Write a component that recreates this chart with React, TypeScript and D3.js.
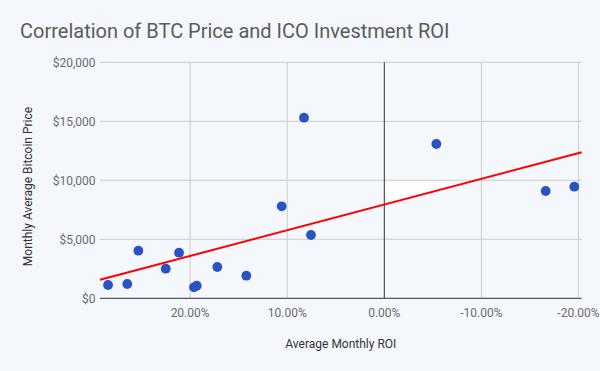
import React from "react";
import * as d3 from "d3";

const roi = [0.2845, 0.2647, 0.2533, 0.2251, 0.2114, 0.196, 0.1932, 0.172, 0.1421, 0.1057, 0.0827, 0.0755, -0.0536, -0.1662, -0.1957];
const price = [1127, 1212, 4034, 2508, 3864, 932, 1068, 2653, 1915, 7797, 15305, 5364, 13076, 9093, 9458];
const xTicks = [0.2, 0.1, 0, -0.1, -0.2];
const yTicks = [0, 5000, 10000, 15000, 20000];
const xDomain = [0.2928, -0.2033];
const yDomain = [0, 20000];
const trendIntercept = 7950;
const trendSlope = -21800;

const W = 600, H = 371;
const L = 100, R = 581.7, T = 62.3, B = 298.3;
const FONT = "Roboto, 'Noto Sans', sans-serif";
const BG = "#f4f7fb";

export default function App() {
  const x = d3.scaleLinear().domain(xDomain).range([L, R]);
  const y = d3.scaleLinear().domain(yDomain).range([B, T]);
  const trend = (v: number) => trendIntercept + trendSlope * v;
  const fmtX = (v: number) => (v * 100).toFixed(2) + "%";
  const fmtY = (v: number) => "$" + d3.format(",")(v);

  // white artifact region right of zero line, between 10000 gridline and trendline
  const xCross = (10000 - trendIntercept) / trendSlope;
  const poly = [
    [x(0), y(10000)],
    [x(xCross), y(10000)],
    [x(0), y(trend(0))],
  ];
  const line = d3.line()(
    [[x(xDomain[0]), y(trend(xDomain[0]))], [x(xDomain[1]), y(trend(xDomain[1]))]] as [number, number][]
  );

  return (
    <svg width={W} height={H} style={{ position: "absolute", left: 0, top: 0 }} fontFamily={FONT}>
      <rect x={0} y={0} width={W} height={H} fill={BG} />
      <polygon points={poly.map((p) => p.join(",")).join(" ")} fill="#ffffff" />
      <text x={20} y={37.5} fontSize={20} fill="#5b5b5b">Correlation of BTC Price and ICO Investment ROI</text>
      {yTicks.map((t) => (
        <g key={"y" + t}>
          {t !== 0 && <line x1={L} x2={R} y1={y(t)} y2={y(t)} stroke="#cccccc" strokeWidth={1} />}
          <text x={95.5} y={y(t) + 4.3} fontSize={12} fill="#6b6b6b" textAnchor="end">{fmtY(t)}</text>
        </g>
      ))}
      {xTicks.map((t) => (
        <g key={"x" + t}>
          {t !== 0 && <line x1={x(t)} x2={x(t)} y1={T} y2={B} stroke="#cccccc" strokeWidth={1} />}
          <text x={x(t)} y={316.5} fontSize={12} fill="#6b6b6b" textAnchor="middle">{fmtX(t)}</text>
        </g>
      ))}
      <line x1={x(0)} x2={x(0)} y1={T} y2={B} stroke="#333333" strokeWidth={1} />
      <line x1={L} x2={R} y1={y(0)} y2={y(0)} stroke="#333333" strokeWidth={1} />
      <path d={line || ""} stroke="#ff0000" strokeWidth={2} fill="none" />
      {roi.map((r, i) => (
        <circle key={i} cx={x(r)} cy={y(price[i])} r={4.9} fill="#2a52c2" />
      ))}
      <text x={(L + R) / 2} y={348} fontSize={12} fill="#333333" textAnchor="middle">Average Monthly ROI</text>
      <text transform={`translate(31.5,186.5) rotate(-90)`} fontSize={12} fill="#333333" textAnchor="middle">Monthly Average Bitcoin Price</text>
    </svg>
  );
}
